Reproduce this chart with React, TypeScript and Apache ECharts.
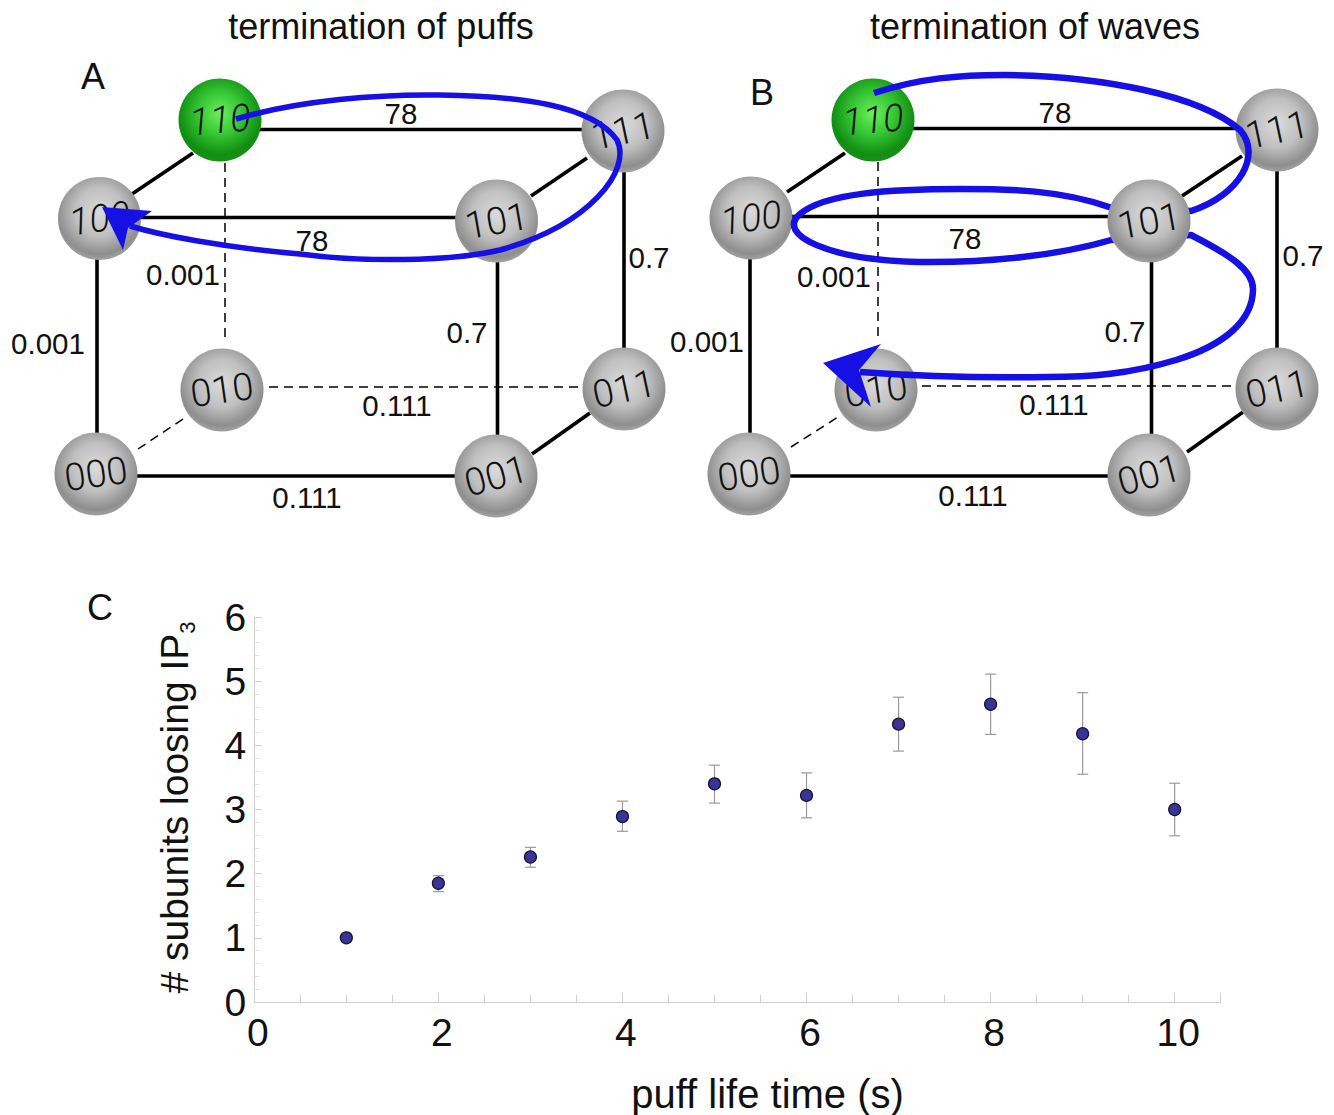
import React, { useEffect, useRef } from "react";
import * as echarts from "echarts";

const lifeTimes = [1, 2, 3, 4, 5, 6, 7, 8, 9, 10];
const meanSubunits = [1.0, 1.85, 2.26, 2.89, 3.4, 3.22, 4.33, 4.64, 4.18, 3.0];
const errLow = [0.96, 1.72, 2.1, 2.66, 3.1, 2.87, 3.91, 4.17, 3.55, 2.59];
const errHigh = [1.04, 1.97, 2.41, 3.13, 3.69, 3.57, 4.75, 5.11, 4.82, 3.41];

const titles = ["termination of puffs", "termination of waves"];
const stateNames = ["110", "111", "100", "101", "010", "011", "000", "001"];

const layoutA: Record<string, number[]> = {
  "110": [220, 120], "111": [623, 131], "100": [99.5, 218.5], "101": [496.5, 221],
  "010": [222, 390], "011": [624, 389], "000": [96, 474], "001": [496, 476],
};
const layoutB: Record<string, number[]> = {
  "110": [873, 120], "111": [1277, 130], "100": [751, 218], "101": [1149, 221],
  "010": [876, 390], "011": [1277, 389], "000": [749, 474], "001": [1149, 475],
};
const solidA = [[260, 129.5, 590, 129.5], [135, 217.5, 460, 217.5], [193, 153, 132, 194], [587, 158, 531, 196], [97, 255, 97, 440], [497.5, 255, 497.5, 440], [624, 165, 624, 350], [130, 476, 460, 476], [532, 454, 590, 413]];
const dashedA = [[225, 163, 225, 342], [269, 387, 581, 387], [138, 449, 186, 417]];
const solidB = [[910, 128.5, 1245, 128.5], [790, 216.5, 1115, 216.5], [845, 153, 787, 192], [1242, 156, 1182, 196], [750, 255, 750, 440], [1151.5, 255, 1151.5, 440], [1277, 165, 1277, 350], [785, 476, 1115, 476], [1187, 452, 1243, 412]];
const dashedB = [[878, 162, 878, 342], [922, 386, 1240, 386], [791, 447, 838, 417]];

const rotations: Record<string, number> = { "110": 5, "111": 12, "100": 8, "101": 10, "010": 8, "011": 12, "000": 8, "001": 15 };
const italicStates = ["110", "100"];

const labelsA: [string, number, number][] = [
  ["78", 401, 113], ["78", 312, 240], ["0.001", 183, 274], ["0.001", 48, 343],
  ["0.7", 649, 257], ["0.7", 467, 332], ["0.111", 397, 405], ["0.111", 307, 497],
];
const labelsB: [string, number, number][] = [
  ["78", 1055, 112], ["78", 965, 238], ["0.001", 834, 276], ["0.001", 707, 341],
  ["0.7", 1303, 255], ["0.7", 1125, 331], ["0.111", 1054, 404], ["0.111", 973, 495],
];

const BLUE = "#1710e4";
const FONT = '"Liberation Sans", Arial, sans-serif';

echarts.graphic.registerShape(
  "curveA",
  echarts.graphic.extendPath(
    "M236 119 C300 100 380 94 440 95 C520 96 592 105 617 140 C632 170 590 225 500 250 C450 262 360 262 300 254 C220 247 160 235 130 226",
    {}
  )
);
echarts.graphic.registerShape(
  "curveB",
  echarts.graphic.extendPath(
    "M874 93 C920 78 960 75 1004 75 C1100 76 1200 95 1240 130 C1262 155 1240 195 1191 211 L1109 207 C1060 190 1010 189 961 189 C890 189 825 193 800 214 C775 235 830 260 918 262 C990 263 1060 255 1111 240 L1191 235 C1230 255 1253 270 1253 289 C1253 320 1225 345 1176 360 C1130 374 1090 377 1047 377 C990 378 930 377 860 372",
    {}
  )
);

const gradient = (stops: [number, string][]) => ({
  type: "radial",
  x: 0.5,
  y: 0.42,
  r: 0.58,
  colorStops: stops.map(([offset, color]) => ({ offset, color })),
});
const greyBall = gradient([[0, "#dadada"], [0.5, "#c0c0c0"], [0.88, "#8e8e8e"], [1, "#a2a2a2"]]);
const greenBall = gradient([[0, "#6cf05c"], [0.45, "#36c634"], [0.85, "#128f12"], [1, "#1c8c1c"]]);

const sphere = (name: string, pos: number[]) => [
  {
    type: "ellipse",
    shape: { cx: pos[0], cy: pos[1], rx: 41.5, ry: 41.5 },
    style: { fill: name === "110" ? greenBall : greyBall },
  },
  {
    type: "text",
    x: pos[0],
    y: pos[1],
    rotation: (rotations[name] * Math.PI) / 180,
    style: {
      text: name,
      fontSize: 38,
      fontFamily: "Roboto, " + FONT,
      fontWeight: 300,
      fontStyle: italicStates.includes(name) ? "italic" : "normal",
      fill: "#111",
      align: "center",
      verticalAlign: "middle",
    },
  },
];

const textEl = (text: string, x: number, y: number, fontSize: number) => ({
  type: "text",
  x,
  y,
  style: { text, fontSize, fontFamily: FONT, fill: "#111", align: "center", verticalAlign: "middle" },
});

const seg = (s: number[]) => ({ x1: s[0], y1: s[1], x2: s[2], y2: s[3] });

const panel = (layout: Record<string, number[]>, solid: number[][], dashed: number[][], labels: [string, number, number][], curve: string, curveWidth: number, overlayState: string | null, arrow: number[][]) => {
  const els: any[] = [];
  solid.forEach((s) => els.push({ type: "line", shape: seg(s), style: { stroke: "#000", lineWidth: 3.6 } }));
  dashed.forEach((s) => els.push({ type: "line", shape: seg(s), style: { stroke: "#000", lineWidth: 1.5, lineDash: [9, 6] } }));
  stateNames.filter((n) => n !== overlayState).forEach((n) => els.push(...sphere(n, layout[n])));
  els.push({ type: curve, x: 0, y: 0, style: { fill: "none", stroke: BLUE, lineWidth: curveWidth } });
  els.push({ type: "polygon", shape: { points: arrow }, style: { fill: BLUE } });
  if (overlayState) els.push(...sphere(overlayState, layout[overlayState]));
  labels.forEach(([t, x, y]) => els.push(textEl(t, x, y, 29.5)));
  return els;
};

const arrowA = [[102, 207], [152, 211], [128, 228], [123, 250]];
const arrowB = [[823, 363], [881, 344], [859, 370], [871, 407]];

export default function App() {
  const ref = useRef<HTMLDivElement>(null);
  useEffect(() => {
    document.body.style.margin = "0";
    const chart = echarts.init(ref.current!, undefined, { renderer: "svg" });
    chart.setOption({
      animation: false,
      backgroundColor: "#fff",
      grid: { left: 254.3, right: 1334 - 1220.7, top: 617, bottom: 1115 - 1002.3, containLabel: false },
      xAxis: {
        type: "value",
        min: 0,
        max: 10.5,
        interval: 2,
        name: "puff life time (s)",
        nameLocation: "middle",
        nameGap: 72,
        nameTextStyle: { fontSize: 40, fontFamily: FONT, color: "#111", padding: [0, 0, 0, 60] },
        splitLine: { show: false },
        axisLine: { onZero: false, lineStyle: { color: "#d0d0d0", width: 1 } },
        axisTick: { show: true, inside: true, length: 9, lineStyle: { color: "#d0d0d0", width: 1 } },
        minorTick: { show: true, splitNumber: 4, length: 7, lineStyle: { color: "#d0d0d0", width: 1 } },
        axisLabel: { fontSize: 39, fontFamily: FONT, color: "#111", margin: 11, showMaxLabel: false, padding: [0, 0, 0, 7] },
      },
      yAxis: {
        type: "value",
        min: 0,
        max: 6,
        interval: 1,
        name: "{a|# subunits loosing IP}{b|3}",
        nameLocation: "middle",
        nameGap: 56,
        nameTextStyle: {
          fontSize: 39,
          fontFamily: FONT,
          color: "#111",
          padding: [0, 0, 0, 4],
          rich: {
            a: { fontSize: 39, fontFamily: FONT, color: "#111", lineHeight: 48 },
            b: { fontSize: 22, fontFamily: FONT, color: "#111", lineHeight: 48, verticalAlign: "bottom" },
          },
        },
        splitLine: { show: false },
        axisLine: { show: true, onZero: false, lineStyle: { color: "#d0d0d0", width: 1 } },
        axisTick: { show: true, inside: true, length: 8, lineStyle: { color: "#d0d0d0", width: 1 } },
        minorTick: { show: true, splitNumber: 5, length: 5, lineStyle: { color: "#e0e0e0", width: 1 } },
        axisLabel: { fontSize: 39, fontFamily: FONT, color: "#111", margin: 8 },
      },
      series: [
        {
          type: "custom",
          name: "error",
          data: lifeTimes.map((x, i) => [x, errLow[i], errHigh[i]]),
          encode: { x: 0, y: [1, 2] },
          silent: true,
          z: 2,
          renderItem: (_p: any, api: any) => {
            const lo = api.coord([api.value(0), api.value(1)]);
            const hi = api.coord([api.value(0), api.value(2)]);
            const style = { stroke: "#9a9a9a", lineWidth: 1.2, fill: "none" };
            const bar = (x1: number, y1: number, x2: number, y2: number) => ({ type: "line", shape: { x1, y1, x2, y2 }, style });
            return {
              type: "group",
              children: [
                bar(lo[0], lo[1], hi[0], hi[1]),
                bar(lo[0] - 5.5, lo[1], lo[0] + 5.5, lo[1]),
                bar(hi[0] - 5.5, hi[1], hi[0] + 5.5, hi[1]),
              ],
            };
          },
        },
        {
          type: "scatter",
          name: "mean",
          data: lifeTimes.map((x, i) => [x, meanSubunits[i]]),
          symbolSize: 12,
          z: 3,
          itemStyle: { color: "#3c3396", borderColor: "#14142e", borderWidth: 1.2, opacity: 1 },
        },
      ],
      graphic: {
        elements: [
          textEl(titles[0], 381, 26, 36),
          textEl(titles[1], 1035, 26, 36),
          textEl("A", 93, 76, 36),
          textEl("B", 762, 92, 36),
          textEl("C", 100, 607, 36),
          ...panel(layoutA, solidA, dashedA, labelsA, "curveA", 5.5, null, arrowA),
          ...panel(layoutB, solidB, dashedB, labelsB, "curveB", 6.5, "101", arrowB),
        ],
      },
    });
    return () => chart.dispose();
  }, []);
  return <div ref={ref} style={{ position: "absolute", left: 0, top: 0, width: 1334, height: 1115 }} />;
}
